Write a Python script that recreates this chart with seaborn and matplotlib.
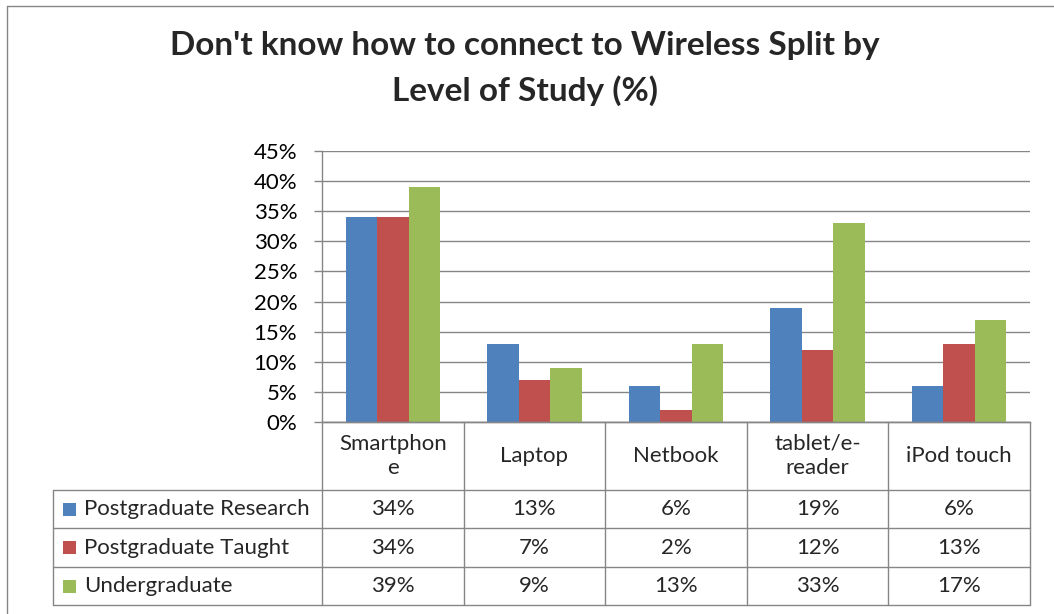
import numpy as np
import pandas as pd
import matplotlib.pyplot as plt
import seaborn as sns
from matplotlib.lines import Line2D
from matplotlib.patches import Rectangle

# Data
devices = ["Smartphone", "Laptop", "Netbook", "tablet/e-reader", "iPod touch"]
device_labels = ["Smartphon\ne", "Laptop", "Netbook", "tablet/e-\nreader", "iPod touch"]
levels = ["Postgraduate Research", "Postgraduate Taught", "Undergraduate"]
pg_research = [34, 13, 6, 19, 6]
pg_taught = [34, 7, 2, 12, 13]
undergrad = [39, 9, 13, 33, 17]
colors = ["#4F81BD", "#C0504D", "#9BBB59"]
y_ticks = [0, 5, 10, 15, 20, 25, 30, 35, 40, 45]

df = pd.DataFrame({
    "device": devices * 3,
    "level": [levels[0]] * 5 + [levels[1]] * 5 + [levels[2]] * 5,
    "pct": pg_research + pg_taught + undergrad,
})

sns.set_theme(style="white")
plt.rcParams["font.family"] = ["Lato", "DejaVu Sans"]

W, H = 1054, 614
GRID = "#868686"
FS = 16

# plot area in pixels
PL, PR, PT, PB = 322, 1030, 151, 422
TL = 53
row_edges = [422, 490, 528, 567, 605]

fig = plt.figure(figsize=(W / 100, H / 100), dpi=100)
ax = fig.add_axes([PL / W, 1 - PB / H, (PR - PL) / W, (PB - PT) / H])

sns.barplot(data=df, x="device", y="pct", hue="level", order=devices,
            hue_order=levels, palette=colors, saturation=1, width=2 / 3,
            gap=0, errorbar=None, legend=False, linewidth=0, ax=ax)

ax.set_ylim(0, 45)
ax.set_xlim(-0.5, len(devices) - 0.5)
ax.set_yticks(y_ticks)
ax.set_yticklabels([f"{t}%" for t in y_ticks], fontsize=FS, color="black")
ax.set_xticks([])
ax.set_xlabel("")
ax.set_ylabel("")
ax.yaxis.grid(True, color=GRID, lw=1)
ax.set_axisbelow(True)
ax.tick_params(axis="y", left=True, direction="out", length=5.8, width=1,
               color=GRID, pad=12)
for s in ["top", "right"]:
    ax.spines[s].set_visible(False)
for s in ["left", "bottom"]:
    ax.spines[s].set_color(GRID)
    ax.spines[s].set_linewidth(1)

# overlay in pixel coordinates for the data table, title and frame
ov = fig.add_axes([0, 0, 1, 1], zorder=5)
ov.set_xlim(0, W)
ov.set_ylim(H, 0)
ov.axis("off")

col_edges = np.linspace(PL, PR, len(devices) + 1)
col_centers = (col_edges[:-1] + col_edges[1:]) / 2

def hline(y, x0, x1):
    ov.add_line(Line2D([x0, x1], [y, y], color=GRID, lw=1))

def vline(x, y0, y1):
    ov.add_line(Line2D([x, x], [y0, y1], color=GRID, lw=1))

hline(row_edges[0], PL, PR)
for y in row_edges[1:]:
    hline(y, TL, PR)
vline(TL, row_edges[1], row_edges[-1])
for x in col_edges:
    vline(x, row_edges[0], row_edges[-1])

# header row with category names
for xc, lab in zip(col_centers, device_labels):
    ov.text(xc, (row_edges[0] + row_edges[1]) / 2, lab, ha="center", va="center",
            fontsize=FS, linespacing=1.25)

# series rows
series = [pg_research, pg_taught, undergrad]
for i, (name, vals, c) in enumerate(zip(levels, series, colors)):
    yc = (row_edges[i + 1] + row_edges[i + 2]) / 2
    ov.add_patch(Rectangle((63, yc - 6.5), 13, 13, color=c, lw=0))
    ov.text(84, yc, name, ha="left", va="center", fontsize=FS)
    for xc, v in zip(col_centers, vals):
        ov.text(xc, yc, f"{v}%", ha="center", va="center", fontsize=FS)

# title
ov.text(525, 55, "Don't know how to connect to Wireless Split by", ha="center",
        va="baseline", fontsize=24, fontweight="bold")
ov.text(525, 101, "Level of Study (%)", ha="center", va="baseline",
        fontsize=24, fontweight="bold")

# chart frame
hline(6, 7, W)
vline(7, 6, H)

fig.savefig("out.png", dpi=100)
